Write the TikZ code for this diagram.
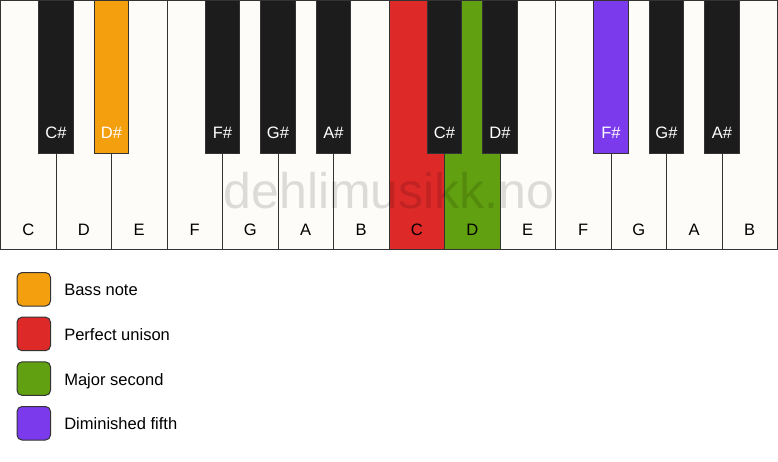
\documentclass[tikz,border=0pt]{standalone}
\usepackage{fontspec}
\setmainfont{Liberation Sans}
\usepackage{tikz}
\usetikzlibrary{arrows}

\definecolor{keywhite}{RGB}{253,252,248}
\definecolor{keyblack}{RGB}{28,28,28}
\definecolor{keyline}{RGB}{51,51,51}
\definecolor{bassnote}{RGB}{243,159,14}
\definecolor{unison}{RGB}{222,41,41}
\definecolor{majsecond}{RGB}{97,160,16}
\definecolor{dimfifth}{RGB}{124,58,237}

\tikzset{
  whitekey/.style={draw=keyline, line width=0.75pt, anchor=north west, inner sep=0pt, outer sep=0pt, minimum width=41.625pt, minimum height=186.75pt},
  blackkey/.style={draw=keyline, line width=0.75pt, anchor=north, inner sep=0pt, outer sep=0pt, minimum width=25.875pt, minimum height=114.75pt},
  keytext/.style={inner sep=0pt, font=\fontsize{12.4}{14}\selectfont},
  swatch/.style={draw=keyline, line width=0.75pt, rounded corners=3.75pt, anchor=north west, inner sep=0pt, minimum size=25.125pt},
}

\begin{document}
\begin{tikzpicture}[x=0.75pt,y=0.75pt,yscale=-1,xscale=1]
\path[use as bounding box] (0,0) rectangle (778,461);

% White keys
\foreach \n/\col [count=\i from 0] in {C/keywhite,D/keywhite,E/keywhite,F/keywhite,G/keywhite,A/keywhite,B/keywhite,C/unison,D/majsecond,E/keywhite,F/keywhite,G/keywhite,A/keywhite,B/keywhite}
{
  \node[whitekey, fill=\col] (w\i) at ({0.5+55.5*\i},0.5) {};
  \node[keytext] (lw\i) at ({28.25+55.5*\i},230) {\n};
}

% Watermark
\node[inner sep=0pt, anchor=base, text=black, text opacity=0.13, font=\fontsize{37.5}{40}\selectfont] (mark) at (389,208) {dehlimusikk.no};

% Black keys
\foreach \n/\k/\col in {C\#/1/keyblack,D\#/2/bassnote,F\#/4/keyblack,G\#/5/keyblack,A\#/6/keyblack,C\#/8/keyblack,D\#/9/keyblack,F\#/11/dimfifth,G\#/12/keyblack,A\#/13/keyblack}
{
  \node[blackkey, fill=\col] (b\k) at ({0.5+55.5*\k},0) {};
  \node[keytext, text=white] (lb\k) at ({0.5+55.5*\k},133) {\n};
}

% Legend
\foreach \t/\col [count=\j from 0] in {Bass note/bassnote,Perfect unison/unison,Major second/majsecond,Diminished fifth/dimfifth}
{
  \node[swatch, fill=\col] (s\j) at (16.5,{272+44.67*\j}) {};
  \node[keytext, anchor=base west] (t\j) at (64,{295.8+44.67*\j}) {\t};
}

\end{tikzpicture}
\end{document}
